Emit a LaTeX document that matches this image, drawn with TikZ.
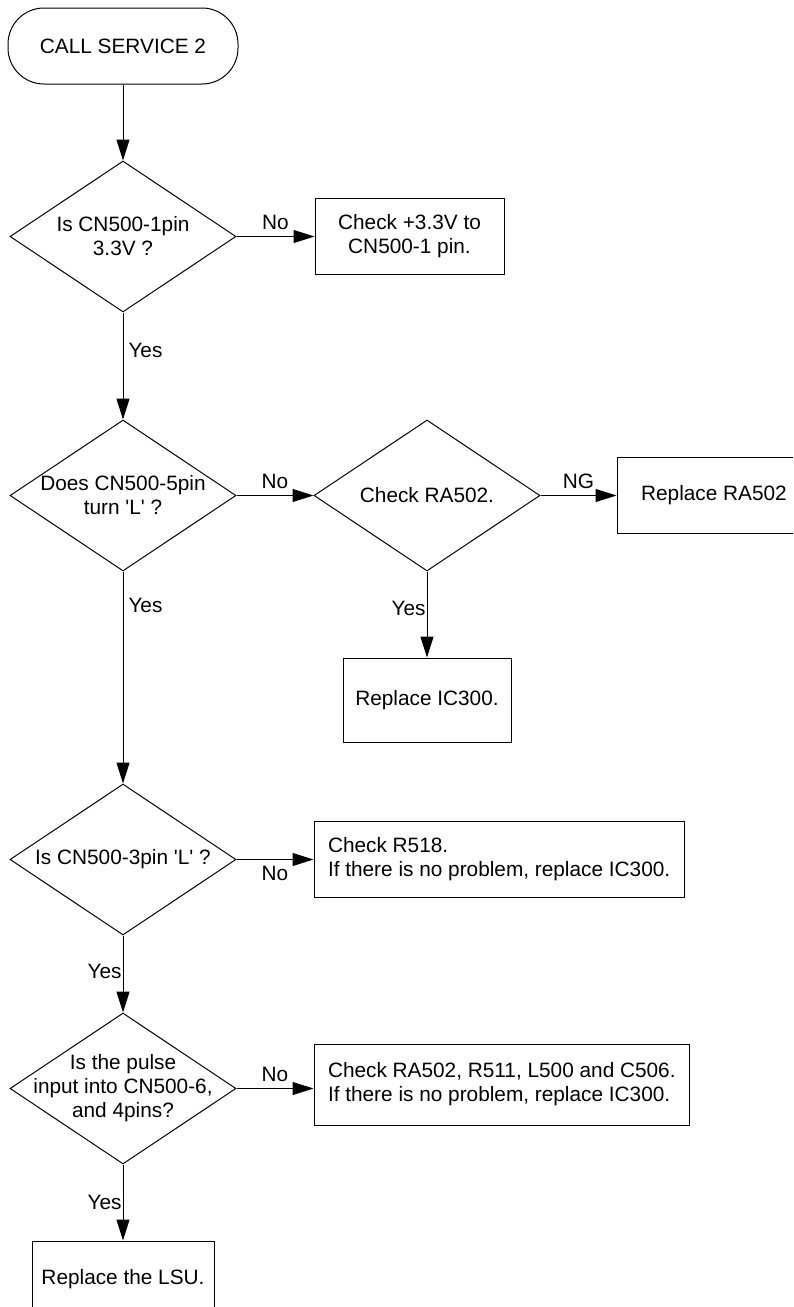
\documentclass[tikz,border=0pt]{standalone}
\usepackage{fontspec}
\setmainfont{Liberation Sans}
\usetikzlibrary{shapes.geometric,positioning,calc,arrows.meta}
\newcommand{\sq}{\textquotesingle}
\tikzset{TERMINAL/.style={rectangle,rounded corners=36pt,draw,minimum width=230pt,minimum height=76pt}}
\tikzset{DECISION/.style={diamond,draw,aspect=1.5,minimum width=226pt,minimum height=151pt,inner xsep=-20pt,inner ysep=-10pt,align=center}}
\tikzset{ACTION/.style={rectangle,draw,minimum height=76pt,align=center}}
\tikzset{NOTE/.style={rectangle,draw,minimum height=76pt,inner xsep=14pt,align=left}}
\tikzset{ARROW/.style={-{Triangle[length=21pt,width=13pt]}}}
\tikzset{YES_R/.style={right,inner sep=5pt}}
\tikzset{YES_L/.style={left,inner sep=1pt}}

\begin{document}
\begin{tikzpicture}[x=1pt,y=-1pt,line width=1pt,font=\fontsize{20.8}{24}\selectfont]

\useasboundingbox (0,0) rectangle (793,1307);
\clip (0,0) rectangle (793,1307);

\node[TERMINAL] (n_start) at (123,46) {CALL SERVICE 2};

% first check: supply on pin 1
\node[DECISION, below=76pt of n_start] (n_q1) {Is CN500-1pin\\3.3V ?};
\node[ACTION, right=78pt of n_q1, minimum width=189pt] (n_fix1) {Check +3.3V to\\CN500-1 pin.};

% second check: pin 5 low, with RA502 branch
\node[DECISION, below=107pt of n_q1] (n_q2) {Does CN500-5pin\\turn \sq L\sq{} ?};
\node[DECISION, right=77pt of n_q2] (n_q2b) {Check RA502.};
\node[ACTION, right=76pt of n_q2b, minimum width=194pt] (n_fix2) {Replace RA502};
\node[ACTION, below=86pt of n_q2b, minimum width=168pt, minimum height=84pt] (n_fix3) {Replace IC300.};

% third check: pin 3 low
\node[DECISION, below=212pt of n_q2] (n_q3) {Is CN500-3pin \sq L\sq{} ?};
\node[NOTE, right=77pt of n_q3] (n_fix4) {Check R518.\\If there is no problem, replace IC300.};

% fourth check: pulse on pins 6 and 4
\node[DECISION, below=77pt of n_q3] (n_q4) {Is the pulse\\input into CN500-6,\\and 4pins?};
\node[NOTE, right=77pt of n_q4, yshift=4pt, minimum height=81pt] (n_fix5) {Check RA502, R511, L500 and C506.\\If there is no problem, replace IC300.};

\node[ACTION, below=76pt of n_q4, minimum width=182pt] (n_end) {Replace the LSU.};

\draw[ARROW] (n_start) -- (n_q1);
\draw[ARROW] (n_q1) -- node[above=3pt]{No} (n_fix1);
\draw[ARROW] (n_q1) -- node[YES_R, pos=0.35]{Yes} (n_q2);

\draw[ARROW] (n_q2) -- node[above=3pt]{No} (n_q2b);
\draw[ARROW] (n_q2b) -- node[above=3pt]{NG} (n_fix2);
\draw[ARROW] (n_q2b) -- node[YES_L, pos=0.43]{Yes} (n_fix3);
\draw[ARROW] (n_q2) -- node[YES_R, pos=0.16]{Yes} (n_q3);

\draw[ARROW] (n_q3) -- node[below=3pt]{No} (n_fix4);
\draw[ARROW] (n_q3) -- node[YES_L, pos=0.47]{Yes} (n_q4);

\draw[ARROW] (n_q4.east) -- node[above=3pt]{No} (n_q4.east -| n_fix5.west);
\draw[ARROW] (n_q4) -- node[YES_L, pos=0.5]{Yes} (n_end);

\end{tikzpicture}
\end{document}
